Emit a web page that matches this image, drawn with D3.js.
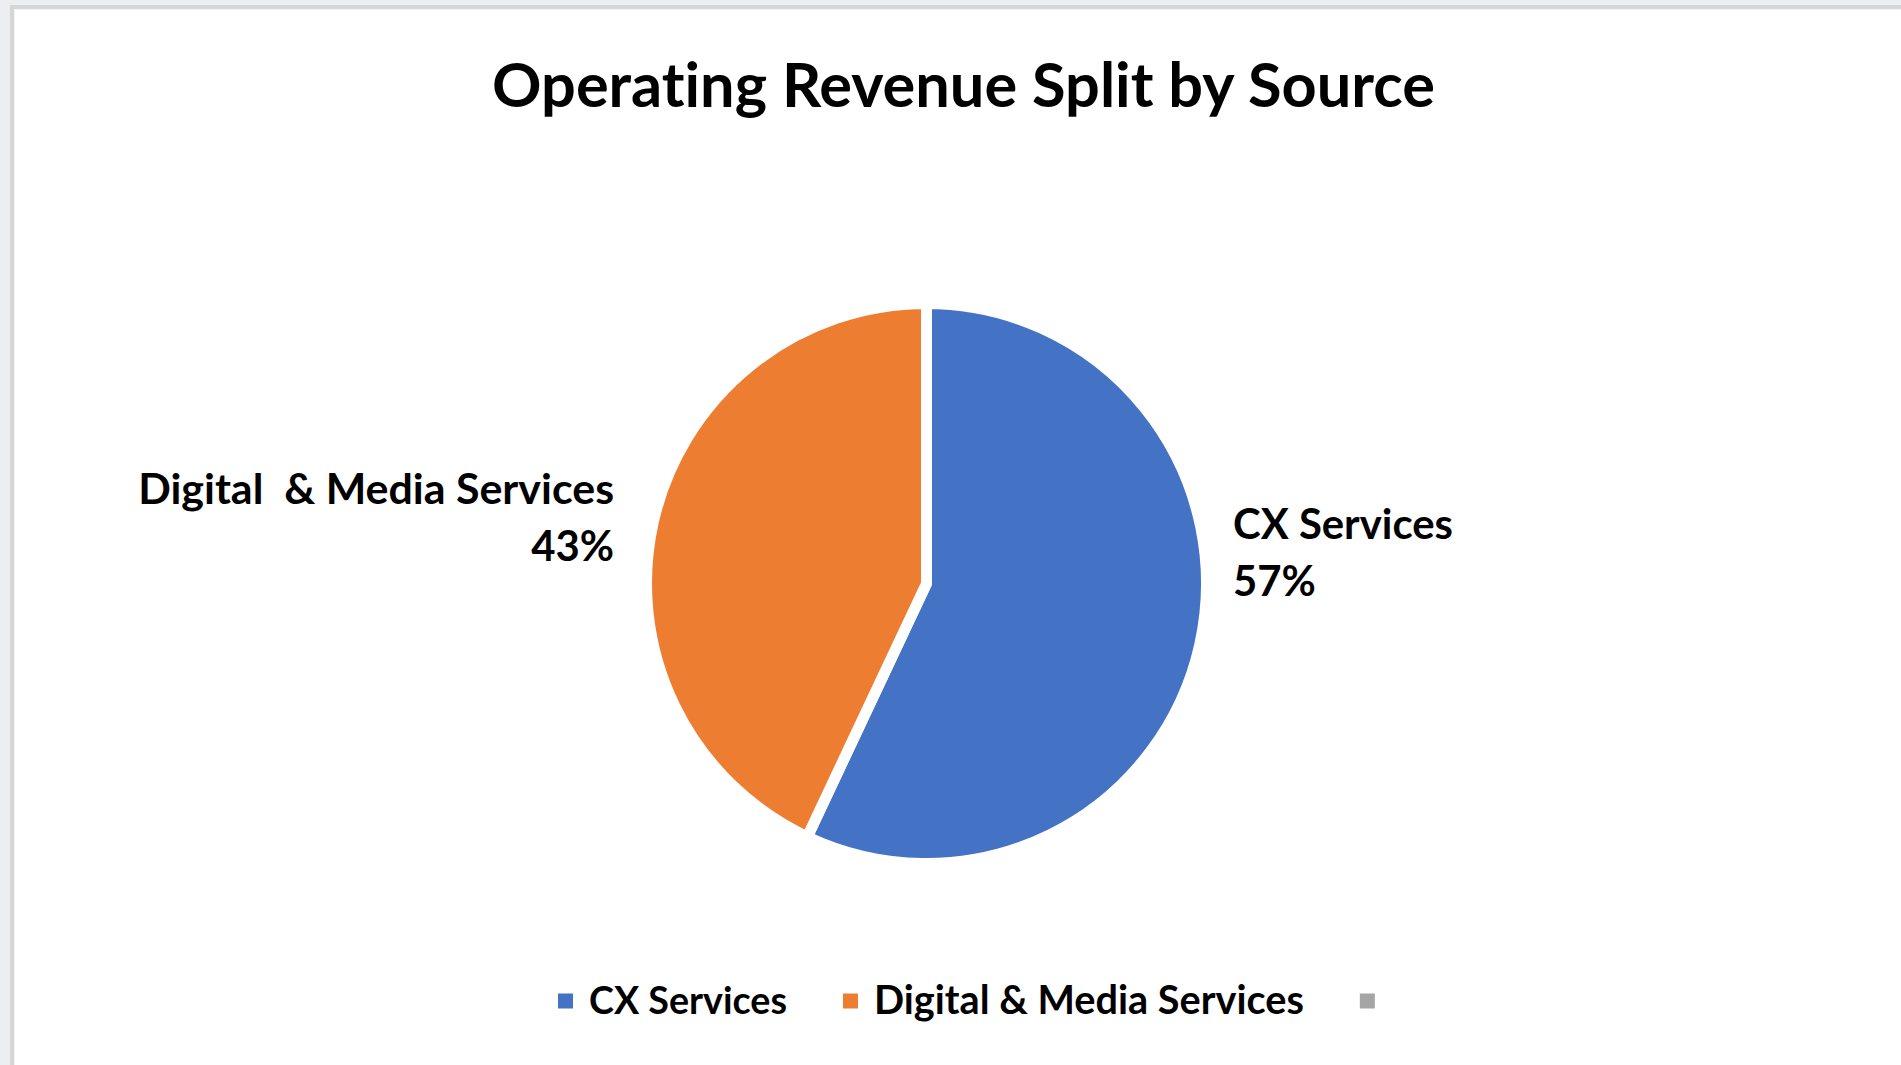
<!DOCTYPE html>
<html>
<head>
<meta charset="utf-8">
<script src="https://cdn.jsdelivr.net/npm/d3@7"></script>
<style>
  html, body { margin: 0; padding: 0; background: #eceef1; }
  svg { display: block; }
  text { font-family: Lato, "Open Sans", "Noto Sans", sans-serif; font-weight: 700; fill: #000;
         font-variant-ligatures: none; font-feature-settings: "liga" 0, "clig" 0; }
</style>
</head>
<body>
<script>
// Revenue split data
const categories = ["CX Services", "Digital & Media Services", ""];
const shares = [57, 43, 0];
const colors = ["#4472C4", "#ED7D31", "#A5A5A5"];
const title = "Operating Revenue Split by Source";

const W = 1901, H = 1065;
const svg = d3.select("body").append("svg").attr("width", W).attr("height", H);

// card frame
svg.append("rect").attr("x", 10).attr("y", 5).attr("width", W).attr("height", H)
  .attr("fill", "#d6d6d6");
svg.append("rect").attr("x", 14).attr("y", 9).attr("width", W).attr("height", H)
  .attr("fill", "#f4f4f4");
svg.append("rect").attr("x", 15).attr("y", 10).attr("width", W).attr("height", H)
  .attr("fill", "#ffffff");

// scale a text's font size so that it spans the given width
function fitSize(str, width) {
  const t = svg.append("text").attr("font-size", 100).style("white-space", "pre").text(str);
  const w = t.node().getComputedTextLength();
  t.remove();
  return 100 * width / w;
}

// title
svg.append("text")
  .attr("x", 963.5).attr("y", 107)
  .attr("text-anchor", "middle")
  .attr("font-size", fitSize(title, 943))
  .text(title);

// pie
const cx = 926.5, cy = 583.5, r = 280;
const pie = d3.pie().sort(null).value(d => d.value);
const arc = d3.arc().innerRadius(0).outerRadius(r);
const data = categories.map((c, i) => ({ name: c, value: shares[i], color: colors[i] }));
const arcs = pie(data).filter(d => d.data.value > 0);

const g = svg.append("g").attr("transform", `translate(${cx},${cy})`);
g.selectAll("path").data(arcs).join("path")
  .attr("d", arc)
  .attr("fill", d => d.data.color)
  .attr("stroke", "#ffffff")
  .attr("stroke-width", 11)
  .attr("stroke-linejoin", "miter");

// data labels: name on first line, percentage below
const labelPos = [
  { x: 1233, y: 539, anchor: "start", width: 220 },
  { x: 614, y: 504, anchor: "end", width: 476 }
];
const labelSize = fitSize("CX Services", 220);
const fmt = d3.format(".0%");
arcs.forEach((d, i) => {
  const p = labelPos[i];
  const name = d.data.name.replace("Digital &", "Digital  &");
  const t = svg.append("text")
    .attr("x", p.x).attr("y", p.y)
    .attr("text-anchor", p.anchor)
    .attr("font-size", labelSize)
    .style("white-space", "pre");
  t.append("tspan").attr("x", p.x).attr("font-size", fitSize(name, p.width)).text(name);
  t.append("tspan").attr("x", p.x).attr("dy", 57).text(fmt(d.data.value / 100));
});

// legend
const legendWidths = [198, 430, 0];
const sq = 15;
let lx = 558;
const ly = 1002;
const legend = svg.append("g");
data.forEach((d, i) => {
  legend.append("rect")
    .attr("x", lx).attr("y", ly - sq / 2 - 1)
    .attr("width", sq).attr("height", sq)
    .attr("fill", d.color);
  lx += sq + 16;
  if (d.name) {
    const t = legend.append("text")
      .attr("x", lx).attr("y", ly + 12)
      .attr("font-size", fitSize(d.name, legendWidths[i]))
      .text(d.name);
    lx += t.node().getComputedTextLength() + 56;
  }
});
</script>
</body>
</html>
